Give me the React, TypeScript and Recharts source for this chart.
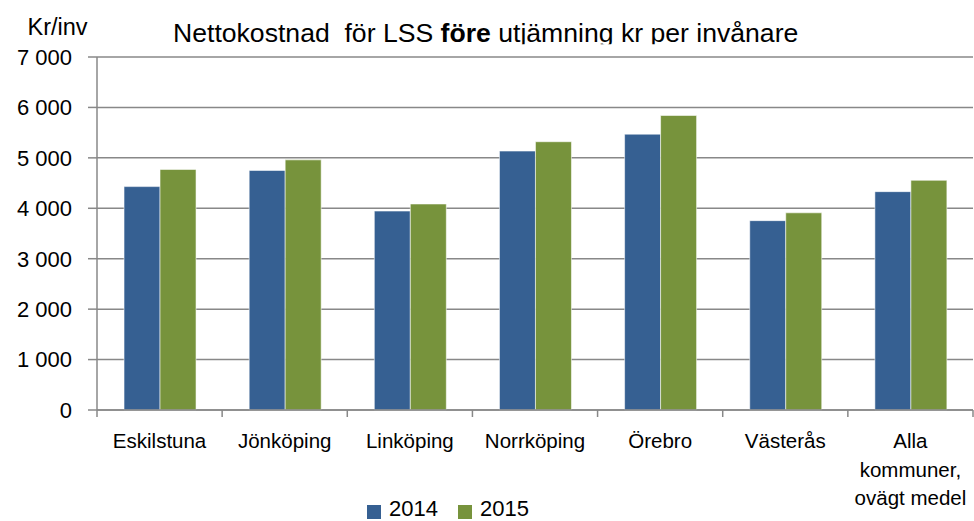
import { BarChart, Bar, XAxis, YAxis, CartesianGrid, Legend } from 'recharts'

const CITIES = ['Eskilstuna', 'Jönköping', 'Linköping', 'Norrköping', 'Örebro', 'Västerås', 'Alla\nkommuner,\novägt medel']
const Y2014 = [4430, 4750, 3945, 5135, 5470, 3755, 4330]
const Y2015 = [4770, 4960, 4085, 5320, 5840, 3910, 4555]
const Y_TICKS = [0, 1000, 2000, 3000, 4000, 5000, 6000, 7000]

const W = 974
const H = 521
const LEFT = 97
const RIGHT = 1
const BAND = (W - LEFT - RIGHT) / CITIES.length
const GRID = '#888888'
const FONT = '"Liberation Sans", Arial, sans-serif'

const data = CITIES.map((name, i) => ({ name, '2014': Y2014[i], '2015': Y2015[i] }))

const fmt = (v: number) => v === 0 ? '0' : `${Math.floor(v / 1000)} ${String(v % 1000).padStart(3, '0')}`

function CityTick(props: any) {
  const { x, y, payload, index } = props
  const lines = String(payload.value).split('\n')
  const last = index === CITIES.length - 1
  return (
    <g>
      <line x1={x - BAND / 2} x2={x - BAND / 2} y1={y} y2={y + 7} stroke={GRID} strokeWidth={1.5} />
      {last && <line x1={x + BAND / 2} x2={x + BAND / 2} y1={y} y2={y + 7} stroke={GRID} strokeWidth={1.5} />}
      <text x={x} y={y} textAnchor="middle" fontSize={20.5} fill="#000" fontFamily={FONT}>
        {lines.map((l, i) => (
          <tspan key={i} x={x} dy={i === 0 ? 38 : 28.7}>{l}</tspan>
        ))}
      </text>
    </g>
  )
}

function renderLegend(props: any) {
  const items = props.payload || []
  return (
    <div style={{ display: 'flex', height: 24, alignItems: 'center', paddingLeft: 367, fontSize: 22, lineHeight: '24px', fontFamily: FONT }}>
      {items.map((it: any, i: number) => (
        <div key={i} style={{ display: 'flex', alignItems: 'center', marginRight: 20 }}>
          <span style={{ width: 14, height: 14, background: it.color, display: 'inline-block', marginRight: 8, marginTop: 6 }} />
          <span>{it.value}</span>
        </div>
      ))}
    </div>
  )
}

export default function App() {
  return (
    <div style={{ position: 'relative', width: W, height: H, fontFamily: FONT, background: '#fff' }}>
      <style>{'body{margin:0}'}</style>
      <BarChart width={W} height={H} data={data} margin={{ top: 57, right: RIGHT, left: 0, bottom: 0 }}
        barCategoryGap="21.6%" barGap={0}>
        <CartesianGrid vertical={false} stroke={GRID} strokeWidth={1.5} />
        <XAxis dataKey="name" height={87} interval={0} tickLine={false} tickSize={0} tickMargin={0}
          axisLine={{ stroke: GRID, strokeWidth: 1.5 }} tick={<CityTick />} />
        <YAxis width={LEFT} domain={[0, 7000]} ticks={Y_TICKS} tickFormatter={fmt} tickSize={9} tickMargin={16}
          axisLine={{ stroke: GRID, strokeWidth: 1.5 }} tickLine={{ stroke: GRID, strokeWidth: 1.5 }}
          tick={{ fontSize: 22, fill: '#000' }} />
        <Legend verticalAlign="bottom" content={renderLegend} />
        <Bar dataKey="2014" fill="#366092" stroke="rgba(255,255,255,0.55)" strokeWidth={1} isAnimationActive={false} />
        <Bar dataKey="2015" fill="#77933C" stroke="rgba(255,255,255,0.55)" strokeWidth={1} isAnimationActive={false} />
      </BarChart>
      <svg width={W} height={H} style={{ position: 'absolute', left: 0, top: 0, pointerEvents: 'none' }}>
        <defs>
          <clipPath id="titleClip"><rect x={0} y={0} width={W} height={44.3} /></clipPath>
        </defs>
        <text x={27.5} y={35} fontSize={23.5} fontFamily={FONT} fill="#000">Kr/inv</text>
        <text x={173} y={41.7} fontSize={26.6} fontFamily={FONT} fill="#000" clipPath="url(#titleClip)" style={{ whiteSpace: 'pre' }}>
          Nettokostnad  för LSS <tspan fontWeight="bold">före</tspan> utjämning kr per invånare
        </text>
      </svg>
    </div>
  )
}
